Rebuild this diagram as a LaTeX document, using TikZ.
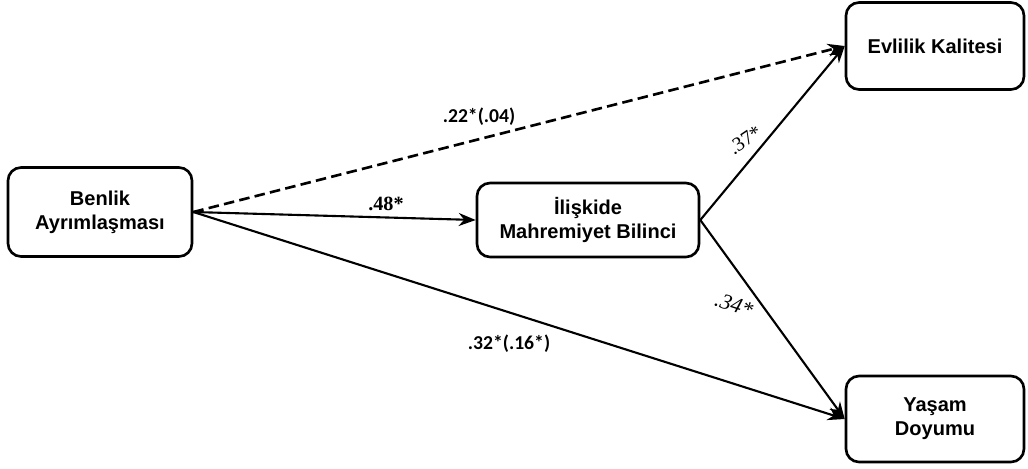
\documentclass[tikz,border=0pt]{standalone}
\usepackage{fontspec}
\setmainfont{Liberation Sans}
\newfontfamily\coeffont{Carlito}
\newfontfamily\timesfont{Liberation Serif}
\usepackage{tikz}
\usetikzlibrary{arrows.meta}
\usetikzlibrary{positioning}
\tikzset{
    var/.style={
        draw,
        rectangle,
        rounded corners=0.26cm,
        line width=1.5pt,
        fill=white,
        align=center,
        inner sep=2pt,
        font=\fontsize{11.4}{13.6}\selectfont\bfseries
    },
    path/.style={
        draw,
        -{Stealth[length=3.4mm, width=2.6mm]},
        line width=1.2pt
    },
    coef/.style={
        font=\fontsize{11.2}{12}\selectfont\coeffont\bfseries
    },
    coefserif/.style={
        font=\fontsize{11.5}{12}\selectfont\timesfont
    }
}
\begin{document}
\begin{tikzpicture}[x=0.02cm, y=-0.02cm]
    \useasboundingbox (0,0) rectangle (1028,468);
    % Variables
    \node[var, minimum width=3.68cm, minimum height=1.78cm] (benlik) at (100,212) {Benlik\\Ayrımlaşması};
    \node[var, minimum width=4.44cm, minimum height=1.48cm] (mahrem) at (588,220) {İlişkide\\Mahremiyet Bilinci};
    \node[var, minimum width=3.56cm, minimum height=1.74cm] (evlilik) at (935,46) {Evlilik Kalitesi};
    \node[var, minimum width=3.56cm, minimum height=1.72cm] (yasam) at (935,419) {Yaşam\\Doyumu};

    % Paths
    \draw[path, line width=1.5pt, dash pattern=on 6pt off 3pt] (benlik.east) -- (evlilik.west);
    \draw[path] (benlik.east) -- (mahrem.west);
    \draw[path] (benlik.east) -- (yasam.west);
    \draw[path] (mahrem.east) -- (evlilik.west);
    \draw[path] (mahrem.east) -- (yasam.west);

    % Coefficients
    \node[coef] (c1) at (479,117) {.22*(.04)};
    \node[coefserif, font=\fontsize{11.5}{12}\selectfont\timesfont\bfseries] (c2) at (386,204) {.48*};
    \node[coefserif, rotate=34] (c3) at (745,140) {.37*};
    \node[coefserif, rotate=-18, font=\fontsize{12.5}{12}\selectfont\timesfont\itshape] (c4) at (734,305) {.34*};
    \node[coef] (c5) at (509,344) {.32*(.16*)};
\end{tikzpicture}
\end{document}
